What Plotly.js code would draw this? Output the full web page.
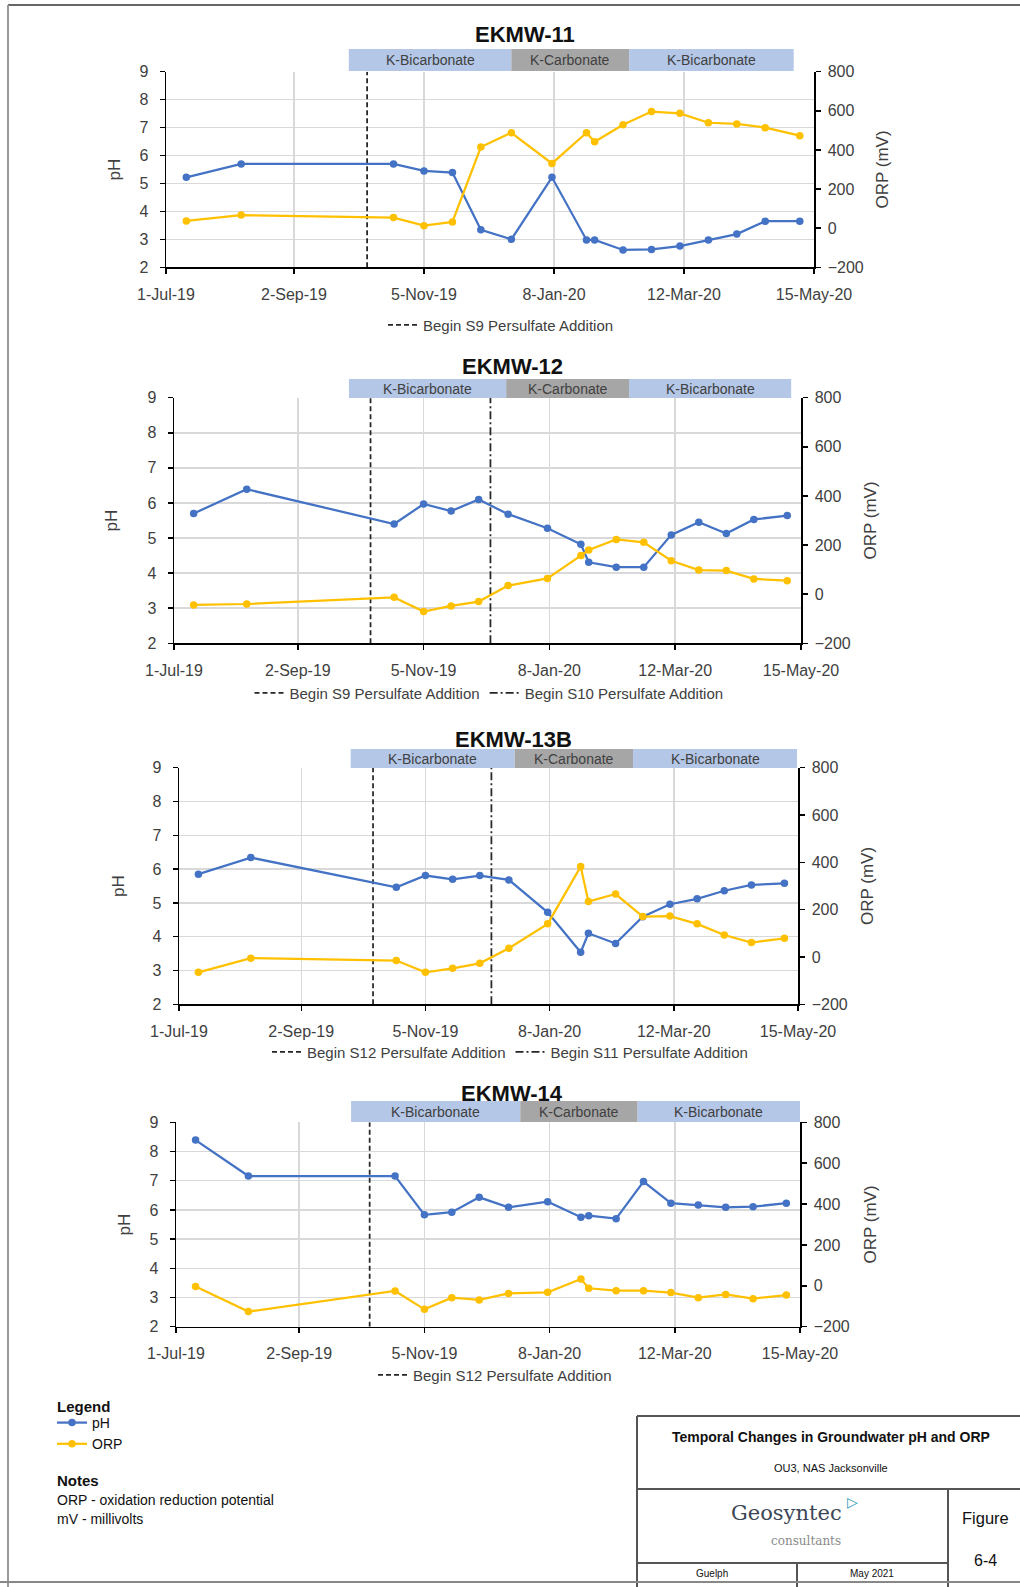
<!DOCTYPE html>
<html><head><meta charset="utf-8">
<script src="https://cdn.plot.ly/plotly-3.0.1.min.js"></script>
<style>html,body{margin:0;padding:0;background:#fff}#chart{width:1020px;height:1587px}</style>
</head><body><div id="chart"></div>
<script>
// ---------------- DATA ----------------
const sampleDates = ['2019-07-11','2019-08-07','2019-10-21','2019-11-05','2019-11-19','2019-12-03','2019-12-18','2020-01-07','2020-01-24','2020-01-28','2020-02-11','2020-02-25','2020-03-10','2020-03-24','2020-04-07','2020-04-21','2020-05-08'];
const xTickVals = ['2019-07-01','2019-09-02','2019-11-05','2020-01-08','2020-03-12','2020-05-15'];
const xTickText = ['1-Jul-19','2-Sep-19','5-Nov-19','8-Jan-20','12-Mar-20','15-May-20'];
const wellNames = ['EKMW-11','EKMW-12','EKMW-13B','EKMW-14'];

const ph11  = [5.22,5.70,5.70,5.45,5.39,3.34,3.00,5.22,2.98,2.98,2.62,2.64,2.76,2.98,3.19,3.65,3.65];
const orp11 = [37,67,54,13,32,415,488,331,488,442,529,596,587,539,533,514,473];
const ph12  = [5.70,6.39,5.40,5.97,5.77,6.10,5.68,5.28,4.82,4.31,4.17,4.17,5.09,5.45,5.13,5.53,5.64];
const orp12 = [-44,-40,-13,-71,-48,-30,35,64,157,180,223,211,136,98,96,62,55];
const ph13B  = [5.85,6.34,5.46,5.81,5.70,5.81,5.68,4.72,3.54,4.10,3.80,4.59,4.96,5.12,5.36,5.53,5.58];
const orp13B = [-65,-5,-15,-65,-48,-27,37,140,382,234,266,171,173,140,93,61,79];
const ph14  = [8.39,7.16,7.16,5.83,5.92,6.43,6.09,6.28,5.75,5.80,5.70,6.97,6.23,6.17,6.09,6.11,6.23];
const orp14 = [-3,-126,-25,-115,-58,-69,-37,-32,33,-12,-24,-24,-33,-58,-42,-63,-45];

const amendmentNames = ['K-Bicarbonate','K-Carbonate','K-Bicarbonate'];
const amendmentBounds11  = ['2019-09-29','2019-12-18','2020-02-14','2020-05-05'];
const amendmentBounds12  = ['2019-09-28','2019-12-17','2020-02-17 12:00','2020-05-10'];
const amendmentBounds13B = ['2019-09-27 12:00','2019-12-21','2020-02-20','2020-05-14 12:00'];
const amendmentBounds14  = ['2019-09-28 12:00','2019-12-24','2020-02-22','2020-05-15'];

const persulfateLabels11  = ['Begin S9 Persulfate Addition'];
const persulfateDates11   = ['2019-10-08'];
const persulfateLabels12  = ['Begin S9 Persulfate Addition','Begin S10 Persulfate Addition'];
const persulfateDates12   = ['2019-10-09','2019-12-09'];
const persulfateLabels13B = ['Begin S12 Persulfate Addition','Begin S11 Persulfate Addition'];
const persulfateDates13B  = ['2019-10-09','2019-12-09'];
const persulfateLabels14  = ['Begin S12 Persulfate Addition'];
const persulfateDates14   = ['2019-10-08'];

// ---------------- LAYOUT HELPERS ----------------
const W = 1020, H = 1587;
const fx = v => v / W;
const fy = v => 1 - v / H;
const FONT = 'Liberation Sans, Arial, sans-serif';
const PH_COLOR = '#4472c4', ORP_COLOR = '#ffc000';
const BAND_COLORS = ['#b4c7e7','#a6a6a6','#b4c7e7'];
const DASHES = ['5px,3px','8px,3px,2px,3px'];

const wells = [
  {ph: ph11,  orp: orp11,  bounds: amendmentBounds11,  pl: persulfateLabels11,  pd: persulfateDates11},
  {ph: ph12,  orp: orp12,  bounds: amendmentBounds12,  pl: persulfateLabels12,  pd: persulfateDates12},
  {ph: ph13B, orp: orp13B, bounds: amendmentBounds13B, pl: persulfateLabels13B, pd: persulfateDates13B},
  {ph: ph14,  orp: orp14,  bounds: amendmentBounds14,  pl: persulfateLabels14,  pd: persulfateDates14}
];

const geom = [
  {x0:166,x1:814,top:71.7,bottom:267.3,bandTop:49,bandBot:71,titleX:525,titleY:34,phX:114,orpX:882,legX:501,legY:325},
  {x0:174,x1:801,top:397.7,bottom:643.3,bandTop:379,bandBot:398,titleX:512,titleY:366.7,phX:111,orpX:870,legX:489,legY:693},
  {x0:179,x1:798,top:767.7,bottom:1004.3,bandTop:749,bandBot:768,titleX:513,titleY:739,phX:118,orpX:867,legX:510,legY:1052},
  {x0:176,x1:800,top:1122.3,bottom:1326.7,bandTop:1101,bandBot:1122,titleX:512,titleY:1093,phX:124,orpX:870,legX:495,legY:1375}
];

const traces = [];
const layout = {
  width: W, height: H,
  margin: {l:0, r:0, t:0, b:0},
  paper_bgcolor: '#fff', plot_bgcolor: 'rgba(0,0,0,0)',
  font: {family: FONT, color: '#404040'},
  showlegend: true,
  shapes: [], annotations: []
};

wells.forEach((w, i) => {
  const g = geom[i];
  const xid = i === 0 ? 'x' : 'x' + (i + 1);
  const yPh = i === 0 ? 'y' : 'y' + (2 * i + 1);
  const yOrp = 'y' + (2 * i + 2);
  const xKey = i === 0 ? 'xaxis' : 'xaxis' + (i + 1);
  const yPhKey = i === 0 ? 'yaxis' : 'yaxis' + (2 * i + 1);
  const yOrpKey = 'yaxis' + (2 * i + 2);
  const legId = i === 0 ? 'legend' : 'legend' + (i + 1);

  // persulfate vertical lines
  w.pd.forEach((d, k) => {
    traces.push({
      type: 'scatter', mode: 'lines', x: [d, d], y: [2, 9],
      xaxis: xid, yaxis: yPh, name: w.pl[k], legend: legId, showlegend: true,
      line: {color: '#262626', width: 1.75, dash: DASHES[k]}, hoverinfo: 'skip'
    });
  });
  traces.push({
    type: 'scatter', mode: 'lines+markers', x: sampleDates, y: w.ph,
    xaxis: xid, yaxis: yPh, name: 'pH', legend: 'legend5', showlegend: i === 0,
    line: {color: PH_COLOR, width: 2.25}, marker: {color: PH_COLOR, size: 7.5}
  });
  traces.push({
    type: 'scatter', mode: 'lines+markers', x: sampleDates, y: w.orp,
    xaxis: xid, yaxis: yOrp, name: 'ORP', legend: 'legend5', showlegend: i === 0,
    line: {color: ORP_COLOR, width: 2.25}, marker: {color: ORP_COLOR, size: 7.5}
  });

  const tickfont = {family: FONT, size: 16, color: '#404040'};
  layout[xKey] = {
    type: 'date', range: [xTickVals[0], xTickVals[xTickVals.length - 1]],
    domain: [fx(g.x0), fx(g.x1)], anchor: yPh,
    tickmode: 'array', tickvals: xTickVals, ticktext: xTickText,
    showgrid: true, gridcolor: '#d9d9d9', gridwidth: 1.5,
    showline: true, linecolor: '#000', linewidth: 1.5,
    ticks: 'outside', ticklen: 5, tickcolor: '#000', tickwidth: 1.5,
    tickfont: tickfont, ticklabelstandoff: 7, zeroline: false, fixedrange: true
  };
  layout[yPhKey] = {
    range: [2, 9], dtick: 1, tick0: 2, domain: [fy(g.bottom), fy(g.top)], anchor: xid,
    showgrid: true, gridcolor: '#d9d9d9', gridwidth: 1.5,
    showline: true, linecolor: '#000', linewidth: 1.5,
    ticks: 'outside', ticklen: 5, tickcolor: '#000', tickwidth: 1.5,
    tickfont: tickfont, ticklabelstandoff: 8, zeroline: false, fixedrange: true
  };
  layout[yOrpKey] = {
    range: [-200, 800], dtick: 200, tick0: -200, overlaying: yPh, side: 'right', anchor: xid,
    showgrid: false, showline: true, linecolor: '#000', linewidth: 1.5,
    ticks: 'outside', ticklen: 5, tickcolor: '#000', tickwidth: 1.5,
    tickfont: tickfont, ticklabelstandoff: 4, zeroline: false, fixedrange: true
  };

  layout[legId] = {
    x: fx(g.legX), y: fy(g.legY), xanchor: 'center', yanchor: 'middle',
    orientation: 'h', bgcolor: 'rgba(0,0,0,0)',
    font: {family: FONT, size: 15, color: '#404040'}
  };

  // amendment bands
  for (let k = 0; k < 3; k++) {
    layout.shapes.push({
      type: 'rect', xref: xid, yref: 'paper',
      x0: w.bounds[k], x1: w.bounds[k + 1], y0: fy(g.bandBot), y1: fy(g.bandTop),
      fillcolor: BAND_COLORS[k], line: {width: 0}, layer: 'above'
    });
    const mid = (new Date(w.bounds[k].replace(' ', 'T')).getTime() + new Date(w.bounds[k + 1].replace(' ', 'T')).getTime()) / 2;
    layout.annotations.push({
      xref: xid, yref: 'paper', x: mid, y: fy((g.bandTop + g.bandBot) / 2),
      text: amendmentNames[k], showarrow: false, xanchor: 'center', yanchor: 'middle',
      font: {family: FONT, size: 14, color: '#404040'}
    });
  }

  // titles
  layout.annotations.push({
    xref: 'paper', yref: 'paper', x: fx(g.titleX), y: fy(g.titleY),
    text: '<b>' + wellNames[i] + '</b>', showarrow: false, xanchor: 'center', yanchor: 'middle',
    font: {family: FONT, size: 22, color: '#111'}
  });
  layout.annotations.push({
    xref: 'paper', yref: 'paper', x: fx(g.phX), y: fy((g.top + g.bottom) / 2),
    text: 'pH', textangle: -90, showarrow: false, xanchor: 'center', yanchor: 'middle',
    font: {family: FONT, size: 17, color: '#404040'}
  });
  layout.annotations.push({
    xref: 'paper', yref: 'paper', x: fx(g.orpX), y: fy((g.top + g.bottom) / 2),
    text: 'ORP (mV)', textangle: -90, showarrow: false, xanchor: 'center', yanchor: 'middle',
    font: {family: FONT, size: 17, color: '#404040'}
  });
});

// overall legend (bottom-left)
layout.legend5 = {
  x: fx(52), y: fy(1407), xanchor: 'left', yanchor: 'top', orientation: 'v',
  bgcolor: 'rgba(0,0,0,0)', tracegroupgap: 0,
  font: {family: FONT, size: 14, color: '#111'}
};

function note(x, y, text, size, opts) {
  layout.annotations.push(Object.assign({
    xref: 'paper', yref: 'paper', x: fx(x), y: fy(y), text: text, showarrow: false,
    xanchor: 'left', yanchor: 'middle', font: {family: FONT, size: size, color: '#111'}
  }, opts || {}));
}
note(55, 1406, '<b>Legend</b>', 15);
note(55, 1480, '<b>Notes</b>', 15);
note(55, 1500, 'ORP - oxidation reduction potential', 14);
note(55, 1519, 'mV - millivolts', 14);

// title block
note(831, 1437, '<b>Temporal Changes in Groundwater pH and ORP</b>', 14, {xanchor: 'center'});
note(831, 1468, 'OU3, NAS Jacksonville', 11, {xanchor: 'center'});
note(786, 1513, 'Geosyntec', 21, {xanchor: 'center', font: {family: 'DejaVu Serif, Liberation Serif, serif', size: 21, color: '#3c4656'}});
note(852, 1502, '▷', 14, {xanchor: 'center', font: {family: 'DejaVu Sans, sans-serif', size: 14, color: '#2f9ab8'}});
note(806, 1541, 'consultants', 12, {xanchor: 'center', font: {family: 'DejaVu Serif, Liberation Serif, serif', size: 12, color: '#8a8a8a'}});
note(985, 1518, 'Figure', 16.5, {xanchor: 'center'});
note(985, 1560, '6-4', 16, {xanchor: 'center'});
note(712, 1573, 'Guelph', 10, {xanchor: 'center'});
note(872, 1573, 'May 2021', 10, {xanchor: 'center'});

function line(x0, y0, x1, y1, color, width) {
  layout.shapes.push({type: 'line', xref: 'paper', yref: 'paper',
    x0: fx(x0), y0: fy(y0), x1: fx(x1), y1: fy(y1), line: {color: color, width: width}});
}
const BC = '#555';
line(637, 1416, 1020, 1416, BC, 2);
line(637, 1416, 637, 1587, BC, 2);
line(637, 1489, 1020, 1489, BC, 2);
line(948, 1489, 948, 1587, BC, 2);
line(637, 1563, 948, 1563, BC, 2);
line(797, 1563, 797, 1587, BC, 2);
// page border
line(8, 5, 1020, 5, '#333', 1.5);
line(8, 5, 8, 1587, '#999', 2);
line(0, 1582, 1020, 1582, '#888', 2);

Plotly.newPlot('chart', traces, layout, {displayModeBar: false, staticPlot: true});
</script>
</body></html>
